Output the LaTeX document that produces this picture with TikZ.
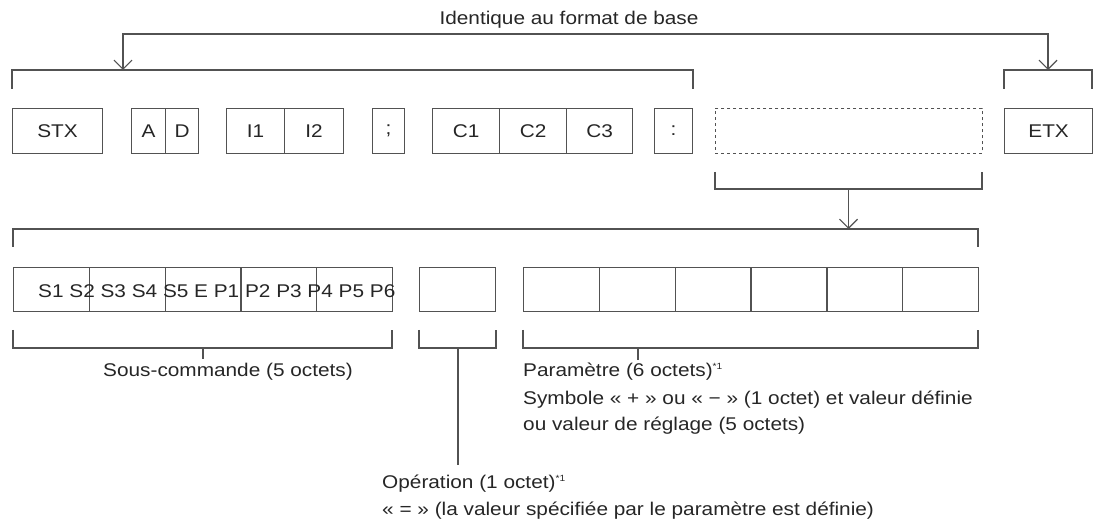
\documentclass[tikz,border=0pt]{standalone}
\usepackage{fontspec}
\setmainfont{Liberation Sans}[FakeStretch=1.13]
\usetikzlibrary{arrows.meta}

\def\sizedtext{\fontsize{18.4}{27}\selectfont}
\def\note{\fontsize{9}{9}\selectfont\raisebox{7pt}{*1}}
\colorlet{field edge}{black!68}
\colorlet{field text}{black!85}
\tikzset{field/.style={draw=field edge, line width=1.2pt, minimum height=45pt,
        inner sep=0pt, anchor=north west, text=field text, font=\sizedtext},
    bracket/.style={draw=field edge, line width=1.2pt},
    pointer/.style={bracket, -{Straight Barb[length=9pt, width=18pt, line width=1.2pt]}},
    caption/.style={text=field text, font=\sizedtext, inner sep=0pt, anchor=base west}}

\begin{document}
\begin{tikzpicture}[x=1pt, y=-1pt]
        \useasboundingbox (0,0) rectangle (1101,529);

        % Basic format
        \begin{scope}
            \node[field, minimum width=90pt] (stx) at (12,108) {STX};
            \node[field, minimum width=34pt] (a) at (131,108) {A};
            \node[field, minimum width=33pt] (d) at (165,108) {D};
            \node[field, minimum width=58pt] (ione) at (226,108) {I1};
            \node[field, minimum width=59pt] (itwo) at (284,108) {I2};
            \node[field, minimum width=32pt] (semi) at (372,108) {;};
            \node[field, minimum width=67pt] (cone) at (432,108) {C1};
            \node[field, minimum width=67pt] (ctwo) at (499,108) {C2};
            \node[field, minimum width=66pt] (cthree) at (566,108) {C3};
            \node[field, minimum width=38pt] (colon) at (654,108) {:};
            \node[field, minimum width=267pt, dashed, line width=0.9pt] (blank) at (715,108) {};
            \node[field, minimum width=88pt] (etx) at (1004,108) {ETX};
        \end{scope}

        % Same as basic format
        \begin{scope}
            \node[caption, anchor=base] (same) at (569,25) {Identique au format de base};
            \coordinate (head-l) at (123,70);
            \coordinate (head-r) at (1048,70);
            \coordinate (same-line) at (585,34);
            \draw[bracket] (12,89) -- (12,70) -- (693,70) -- (693,89);
            \draw[bracket] (1004,89) -- (1004,70) -- (1092,70) -- (1092,89);
            \draw[pointer, {Straight Barb[length=9pt, width=18pt, line width=1.2pt]}-{Straight Barb[length=9pt, width=18pt, line width=1.2pt]}]
                (head-l) |- (same-line) -| (head-r);
        \end{scope}

        % Expanded field
        \begin{scope}
            \coordinate (blank-brk) at (848.5,189);
            \coordinate (ext-brk) at (848.5,229);
            \draw[bracket] (715,172) -- (715,189) -- (982,189) -- (982,172);
            \draw[pointer] (blank-brk) -- (ext-brk);
            \draw[bracket] (13,247) -- (13,229) -- (978,229) -- (978,247);
        \end{scope}

        % Sub command, operation and parameter
        \begin{scope}
            \foreach \i in {0,...,4}
                \node[field, minimum width=75.8pt, minimum height=44pt] (s\i) at (13+75.8*\i,267) {};
            \node[field, minimum height=44pt, minimum width=76pt] (op) at (419,267) {};
            \foreach \i in {0,...,5}
                \node[field, minimum width=75.83pt, minimum height=44pt] (p\i) at (523+75.83*\i,267) {};
            \node[caption] (subtext) at (38,298) {S1 S2 S3 S4 S5 E P1 P2 P3 P4 P5 P6};
        \end{scope}

        % Lower brackets and notes
        \begin{scope}
            \draw[bracket] (13,330) -- (13,348) -- (392,348) -- (392,330);
            \draw[bracket] (203,348) -- (203,359);
            \node[caption] (subcap) at (103,377) {Sous-commande (5 octets)};

            \draw[bracket] (419,330) -- (419,348) -- (496,348) -- (496,330);
            \draw[bracket] (458,348) -- (458,465);
            \node[caption] (opcap) at (382,488) {Opération (1 octet)\note};
            \node[caption] (opnote) at (382,515) {« = » (la valeur spécifiée par le paramètre est définie)};

            \draw[bracket] (523,330) -- (523,348) -- (978,348) -- (978,330);
            \draw[bracket] (638,348) -- (638,360);
            \node[caption] (parcap) at (523,377) {Paramètre (6 octets)\note};
            \node[caption] (parsign) at (523,404) {Symbole « + » ou « − » (1 octet) et valeur définie};
            \node[caption] (parval) at (523,431) {ou valeur de réglage (5 octets)};
        \end{scope}
    \end{tikzpicture}
\end{document}
